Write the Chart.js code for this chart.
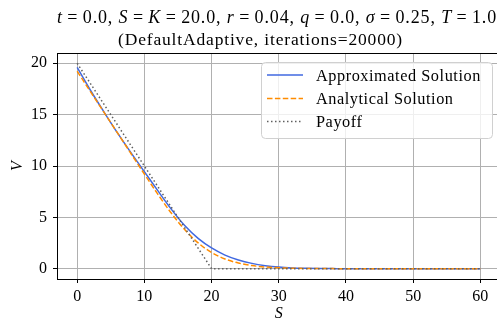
<!DOCTYPE html>
<html><head><meta charset="utf-8">
<script src="https://cdn.jsdelivr.net/npm/chart.js@4.4.1/dist/chart.umd.min.js"></script>
<style>html,body{margin:0;padding:0;overflow:hidden;background:#fff;width:497px;height:324px}
canvas{display:block}</style></head>
<body><canvas id="c" width="504" height="324" style="width:504px;height:324px"></canvas>
<script>
const sValues = [0,2,4,6,8,10,12,14,16,18,20,22,24,26,28,30,32,34,36,38,40,42,44,46,48,50,52,54,56,58,60];
const approxValues = [19.6,17.35,15.25,13.22,11.3,9.45,7.6,5.8,4.2,2.95,2.02,1.33,0.85,0.52,0.3,0.16,0.08,0.04,0.02,0.01,0,0,0,0,0,0,0,0,0,0,0];
const analyticValues = [19.22,17.22,15.22,13.22,11.22,9.22,7.26,5.42,3.81,2.52,1.58,0.95,0.55,0.31,0.17,0.09,0.05,0.02,0.01,0.01,0,0,0,0,0,0,0,0,0,0,0];
const payoffValues = [20,18,16,14,12,10,8,6,4,2,0,0,0,0,0,0,0,0,0,0,0,0,0,0,0,0,0,0,0,0,0];
const xTicks = [0,10,20,30,40,50,60];
const yTicks = [0,5,10,15,20];
const seriesLabels = ['Approximated Solution','Analytical Solution','Payoff'];
const EQ = '\u2009=\u2009';
const titleLine1 = [['t',1],[EQ+'0.0, ',0],['S',1],[EQ,0],['K',1],[EQ+'20.0, ',0],['r',1],[EQ+'0.04, ',0],['q',1],[EQ+'0.0, ',0],['\u03c3',1],[EQ+'0.25, ',0],['T',1],[EQ+'1.0',0]];
const titleLine2 = '(DefaultAdaptive, iterations=20000)';
const xLabel = 'S', yLabel = 'V';

const SERIF = '"Liberation Serif", "DejaVu Serif", serif';
const pts = vals => sValues.map((s,i)=>({x:s,y:vals[i]}));

const overlay = {
  id:'overlay',
  afterDraw(chart){
    const {ctx, chartArea:a} = chart;
    ctx.save();
    ctx.strokeStyle='#000'; ctx.lineWidth=1;
    ctx.beginPath(); ctx.moveTo(a.left, Math.round(a.top)+0.5); ctx.lineTo(a.right+2, Math.round(a.top)+0.5); ctx.stroke();
    ctx.beginPath(); ctx.moveTo(Math.round(a.right)+0.5, a.top); ctx.lineTo(Math.round(a.right)+0.5, a.bottom); ctx.stroke();
    // title line 1
    ctx.fillStyle='#000'; ctx.textBaseline='alphabetic'; ctx.textAlign='left';
    const fs1 = 18;
    const f = it => (it?'italic ':'')+fs1+'px '+SERIF;
    ctx.letterSpacing='0px';
    let w=0, n=0;
    titleLine1.forEach(([t,it])=>{ctx.font=f(it); w+=ctx.measureText(t).width; n+=[...t].length;});
    const ls = (440 - w)/n;
    ctx.letterSpacing = ls+'px';
    let x = 57;
    titleLine1.forEach(([t,it])=>{ctx.font=f(it); ctx.fillText(t,x,22.5); x+=ctx.measureText(t).width;});
    // title line 2
    ctx.letterSpacing='0px';
    ctx.font = '17.5px '+SERIF;
    const w2 = ctx.measureText(titleLine2).width;
    const ls2 = (285 - w2)/titleLine2.length;
    ctx.letterSpacing = ls2+'px';
    ctx.fillText(titleLine2, 118, 45);
    // legend
    ctx.letterSpacing='0px';
    const lx=261, ly=62, lw=231, lh=76, r=4;
    ctx.beginPath();
    ctx.roundRect(lx+0.5, ly+0.5, lw, lh, r);
    ctx.fillStyle='rgba(255,255,255,0.8)'; ctx.fill();
    ctx.strokeStyle='#d0d0d0'; ctx.lineWidth=1; ctx.stroke();
    const rows=[75,98.5,121.5];
    chart.data.datasets.forEach((ds,i)=>{
      const y=rows[i];
      ctx.save();
      ctx.strokeStyle=ds.borderColor; ctx.lineWidth=ds.borderWidth;
      ctx.setLineDash(ds.borderDash||[]);
      ctx.beginPath(); ctx.moveTo(267,y); ctx.lineTo(303,y); ctx.stroke();
      ctx.restore();
      ctx.fillStyle='#000';
      ctx.font='16.3px '+SERIF;
      ctx.letterSpacing='0.55px';
      ctx.fillText(ds.label, 316, y+5.5);
    });
    ctx.restore();
  }
};

const tickFont = {family:SERIF, size:16};
new Chart(document.getElementById('c'), {
  type:'line',
  data:{datasets:[
    {label:seriesLabels[0], data:pts(approxValues), borderColor:'#4169e1', borderWidth:1.5, pointRadius:0, cubicInterpolationMode:'monotone', order:3, fill:false},
    {label:seriesLabels[1], data:pts(analyticValues), borderColor:'#ff8c00', borderWidth:1.5, borderDash:[5.5,2.4], pointRadius:0, cubicInterpolationMode:'monotone', order:2, fill:false},
    {label:seriesLabels[2], data:pts(payoffValues), borderColor:'#606060', borderWidth:1.5, borderDash:[1.5,2.5], pointRadius:0, tension:0, order:1, fill:false}
  ]},
  options:{
    responsive:false, animation:false, devicePixelRatio:1,
    layout:{padding:{top:53,right:3.5,left:0,bottom:0}},
    plugins:{legend:{display:false}, title:{display:false}, tooltip:{enabled:false}},
    scales:{
      x:{type:'linear', min:-3, max:63,
        afterBuildTicks:s=>{s.ticks=xTicks.map(v=>({value:v}));},
        afterFit:s=>{s.height=45;},
        grid:{color:'#b0b0b0', lineWidth:1, tickLength:4, tickColor:'#000', tickWidth:1},
        border:{color:'#000', width:1},
        ticks:{font:tickFont, color:'#000', padding:4, maxRotation:0},
        title:{display:true, text:xLabel, font:{family:SERIF, size:16, style:'italic'}, color:'#000', padding:{top:0,bottom:1}}
      },
      y:{type:'linear', min:-1, max:21,
        afterBuildTicks:s=>{s.ticks=yTicks.map(v=>({value:v}));},
        afterFit:s=>{s.width=57;},
        grid:{color:'#b0b0b0', lineWidth:1, tickLength:4, tickColor:'#000', tickWidth:1},
        border:{color:'#000', width:1},
        ticks:{font:tickFont, color:'#000', padding:6},
        title:{display:true, text:yLabel, font:{family:SERIF, size:16, style:'italic'}, color:'#000', padding:{top:8,bottom:0}}
      }
    }
  },
  plugins:[overlay]
});
</script>
</body></html>
